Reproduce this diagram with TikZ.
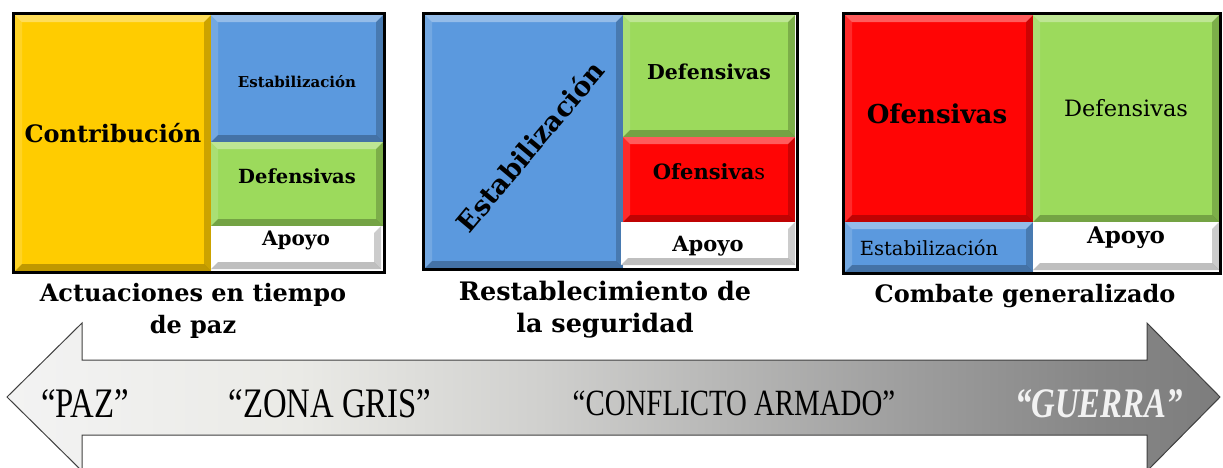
\documentclass[tikz,border=0pt]{standalone}
\usepackage{fontspec}
\setmainfont{DejaVu Serif}
\newfontfamily\arrowfont[FakeStretch=0.78]{Liberation Serif}
\usetikzlibrary{fit}

\definecolor{contribyellow}{HTML}{FFCC00}
\definecolor{estabblue}{HTML}{5B99DE}
\definecolor{defgreen}{HTML}{9CDA5C}
\definecolor{ofred}{HTML}{FF0505}
\definecolor{g0}{HTML}{F3F3F3}
\definecolor{g1}{HTML}{EAEAE6}
\definecolor{g2}{HTML}{D0D0CE}
\definecolor{g3}{HTML}{9E9E9E}
\definecolor{g4}{HTML}{868686}
\definecolor{g5}{HTML}{7D7D7D}
\pgfdeclarehorizontalshading{pazguerra}{100bp}{color(0bp)=(g0); color(25bp)=(g0);
  color(37bp)=(g1); color(47bp)=(g2); color(62bp)=(g3); color(70bp)=(g4);
  color(75bp)=(g5); color(100bp)=(g5)}

\tikzset{
  bevel/.style={path picture={
    \coordinate (nw) at (path picture bounding box.north west);
    \coordinate (ne) at (path picture bounding box.north east);
    \coordinate (sw) at (path picture bounding box.south west);
    \coordinate (se) at (path picture bounding box.south east);
    \fill[white,opacity=.35] (nw) -- (ne) -- ([shift={(-7pt,-7pt)}]ne) -- ([shift={(7pt,-7pt)}]nw) -- cycle;
    \fill[white,opacity=.15] (nw) -- (sw) -- ([shift={(7pt,7pt)}]sw) -- ([shift={(7pt,-7pt)}]nw) -- cycle;
    \fill[black,opacity=.25] (sw) -- (se) -- ([shift={(-7pt,7pt)}]se) -- ([shift={(7pt,7pt)}]sw) -- cycle;
    \fill[black,opacity=.2] (ne) -- (se) -- ([shift={(-7pt,7pt)}]se) -- ([shift={(-7pt,-7pt)}]ne) -- cycle;
  }},
  block/.style={inner sep=0pt, bevel},
  panel/.style={draw=black, line width=3pt, inner sep=0pt},
  lbl/.style={font=\fontsize{#1}{#1}\selectfont\bfseries},
  plain/.style={font=\fontsize{#1}{#1}\selectfont},
  title/.style={font=\fontsize{#1}{32}\selectfont\bfseries, align=center, anchor=north, inner sep=0pt},
  arrowtxt/.style={font=\arrowfont\fontsize{#1}{#1}\selectfont, inner sep=0pt}
}

\begin{document}
\begin{tikzpicture}[x=1pt,y=-1pt]
\useasboundingbox (0,0) rectangle (1223,467);

% Actuaciones en tiempo de paz
\node[block, fill=contribyellow, fit={(15,15) (211,271)}, lbl=24] (contrib) {Contribución};
\node[block, fill=estabblue, fit={(211,15) (383,142)}] (estab1) {};
\node[lbl=15] (estab1lbl) at (297,82) {Estabilización};
\node[block, fill=defgreen, fit={(211,142) (383,226)}, lbl=19.5] (def1) {Defensivas};
\node[block, fill=white, fit={(211,226) (381,269)}, lbl=20] (apoyo1) {Apoyo};
\node[panel, fit={(13.5,13.5) (384,272)}] (p1) {};
\node[title=24] (t1) at (193,283) {Actuaciones en tiempo\\de paz};

% Restablecimiento de la seguridad
\node[block, fill=estabblue, fit={(425,15) (623,268)}] (estab2) {};
\node[rotate=50, lbl=27] (estab2lbl) at (530,146) {Estabilización};
\node[block, fill=defgreen, fit={(623,15) (795,137)}] (def2) {};
\node[lbl=20.5] (def2lbl) at (709,72) {Defensivas};
\node[block, fill=ofred, fit={(623,137) (795,222)}, lbl=21] (of2) {Ofensiva{\mdseries s}};
\node[block, fill=white, fit={(621,222) (795,265)}] (apoyo2) {};
\node[lbl=21] (apoyo2lbl) at (708,246) {Apoyo};
\node[panel, fit={(423.5,13.5) (797,269)}] (p2) {};
\node[title=25.5] (t2) at (605,281) {Restablecimiento de\\la seguridad};

% Combate generalizado
\node[block, fill=ofred, fit={(845,15) (1033,222)}] (of3) {};
\node[lbl=26] (of3lbl) at (937,114) {Ofensivas};
\node[block, fill=defgreen, fit={(1033,15) (1219,222)}] (def3) {};
\node[plain=22.5] (def3lbl) at (1126,108) {Defensivas};
\node[block, fill=estabblue, fit={(845,222) (1033,272)}] (estab3) {};
\node[plain=19.5] (estab3lbl) at (929,248) {Estabilización};
\node[block, fill=white, fit={(1033,222) (1219,270)}, lbl=23] (apoyo3) {Apoyo};
\node[panel, fit={(843.5,13.5) (1220,273)}] (p3) {};
\node[title=24] (t3) at (1025,284) {Combate generalizado};

% flecha paz - guerra
\path[shading=pazguerra, draw=black!75, line width=1pt]
  (7,397) -- (82,323) -- (82,360) -- (1147,360) -- (1147,323) -- (1220,397)
  -- (1147,471) -- (1147,435) -- (82,435) -- (82,471) -- cycle;
\node[arrowtxt=42] (paz) at (85,404) {“PAZ”};
\node[arrowtxt=42] (gris) at (330,404) {“ZONA GRIS”};
\node[arrowtxt=37] (conflicto) at (734,403) {“CONFLICTO ARMADO”};
\node[arrowtxt=42, font=\arrowfont\fontsize{42}{42}\selectfont\bfseries\itshape, text=black!5] (guerra) at (1099,404) {“GUERRA”};
\end{tikzpicture}
\end{document}
